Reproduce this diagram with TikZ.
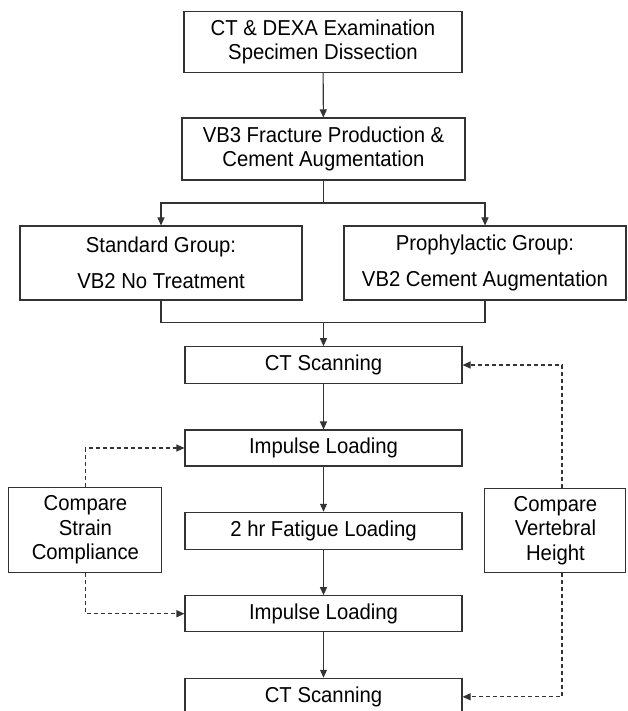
\documentclass[tikz,border=0pt]{standalone}
\usepackage{fontspec}
\setmainfont[FakeStretch=0.94]{Liberation Sans}
\usetikzlibrary{arrows.meta}
\begin{document}
\begin{tikzpicture}[x=1pt,y=-1pt,
  box/.style={draw=black!80, line width=1.1pt, inner sep=0pt, align=center,
    font=\fontsize{21.6}{24.4}\selectfont},
  conn/.style={draw=black!80, line width=1.1pt},
  arr/.style={conn, -{Triangle[length=8pt,width=7pt]}},
  darr/.style={arr, dash pattern=on 4pt off 3pt}]
\useasboundingbox (0,0) rectangle (627,711);
\node[box, minimum width=278pt, minimum height=60.6pt] (b1) at (323,42) {CT \& DEXA Examination\\Specimen Dissection};
\node[box, minimum width=283pt, minimum height=62pt] (b2) at (323.5,149) {VB3 Fracture Production \&\\Cement Augmentation};
\node[box, minimum width=282pt, minimum height=74pt] (std) at (161,263) {Standard Group:\\[11.6pt]VB2 No Treatment};
\node[box, minimum width=282pt, minimum height=74pt] (pro) at (485,263) {Prophylactic Group:\\[11.6pt]VB2 Cement Augmentation};
\node[box, minimum width=277pt, minimum height=36.6pt] (ct1) at (323.5,365) {CT Scanning};
\node[box, minimum width=277pt, minimum height=36pt] (imp1) at (323.5,448) {Impulse Loading};
\node[box, minimum width=277pt, minimum height=37pt] (fat) at (323.5,530.8) {2 hr Fatigue Loading};
\node[box, minimum width=277pt, minimum height=36pt] (imp2) at (323.5,613.7) {Impulse Loading};
\node[box, minimum width=277pt, minimum height=37pt] (ct2) at (323.5,696.8) {CT Scanning};
\node[box, minimum width=153pt, minimum height=85.4pt] (strain) at (85.4,530) {Compare\\Strain\\Compliance};
\node[box, minimum width=141pt, minimum height=84.4pt] (vert) at (555.4,530.5) {Compare\\Vertebral\\Height};
\coordinate (split) at (323.5,203);
\coordinate (merge) at (323.5,322.7);
\coordinate (rx) at (562,0);
\draw[arr] (b1) -- (b2);
\draw[conn] (b2.south) -- (split);
\draw[arr] (split) -| (std.north);
\draw[arr] (split) -| (pro.north);
\draw[conn] (std.south) |- (merge) -| (pro.south);
\draw[arr] (merge) -- (ct1.north);
\draw[arr] (ct1) -- (imp1);
\draw[arr] (imp1) -- (fat);
\draw[arr] (fat) -- (imp2);
\draw[arr] (imp2) -- (ct2);
\draw[darr] (strain.north) |- (imp1.west);
\draw[darr] (strain.south) |- (imp2.west);
\draw[darr] (rx |- vert.north) |- (ct1.east);
\draw[darr] (rx |- vert.south) |- (ct2.east);
\end{tikzpicture}
\end{document}
